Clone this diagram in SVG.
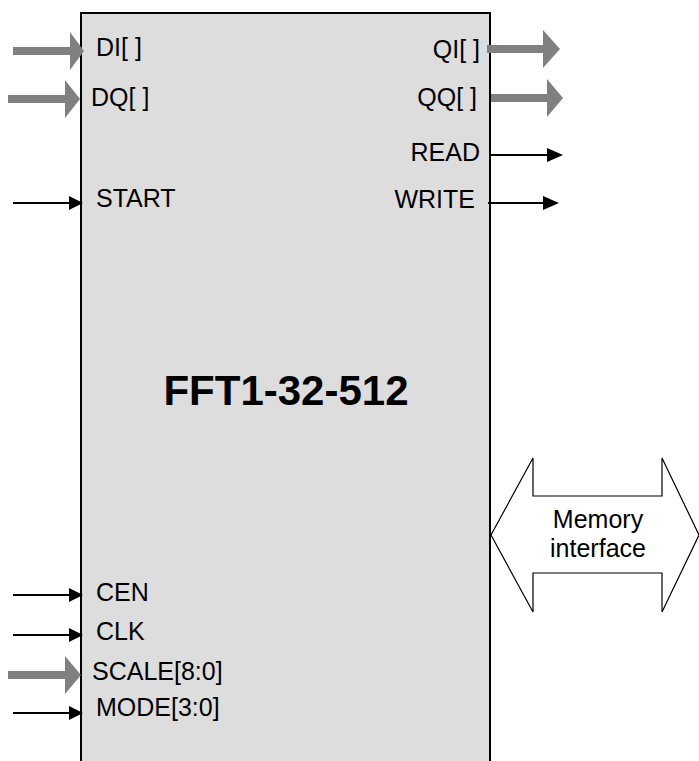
<svg xmlns="http://www.w3.org/2000/svg" width="699" height="761" viewBox="0 0 699 761">
<defs>
<style>
.lbl{font-family:"Liberation Sans",Arial,sans-serif;font-size:25px;fill:#000}
.title{font-family:"Liberation Sans",Arial,sans-serif;font-size:42px;font-weight:bold;fill:#000}
.thin{stroke:#000;stroke-width:2;fill:none}
.bus{fill:#808080;stroke:none}
.head{fill:#000;stroke:none}
</style>
</defs>
<rect width="699" height="761" fill="#fff"/>
<g id="block">
<rect x="81" y="13" width="409" height="760" fill="#dddddd" stroke="#000" stroke-width="2"/>
<text class="title" x="286" y="405" text-anchor="middle">FFT1-32-512</text>
</g>
<g id="labels">
<text class="lbl" x="96" y="56">DI[ ]</text>
<text class="lbl" x="91" y="106">DQ[ ]</text>
<text class="lbl" x="96" y="207">START</text>
<text class="lbl" x="96" y="601">CEN</text>
<text class="lbl" x="96" y="640">CLK</text>
<text class="lbl" x="92" y="680">SCALE[8:0]</text>
<text class="lbl" x="96" y="716">MODE[3:0]</text>
<text class="lbl" x="480" y="58" text-anchor="end">QI[ ]</text>
<text class="lbl" x="477" y="106" text-anchor="end">QQ[ ]</text>
<text class="lbl" x="480" y="161" text-anchor="end">READ</text>
<text class="lbl" x="475" y="208" text-anchor="end">WRITE</text>
</g>
<g id="memory">
<polygon points="491,535 533,458 533,496 662,496 662,458 699,535 662,612 662,573 533,573 533,612" fill="#fff" stroke="#000" stroke-width="1.2"/>
<text class="lbl" x="598" y="528" text-anchor="middle">Memory</text>
<text class="lbl" x="598" y="557" text-anchor="middle">interface</text>
</g>
<g id="connectors">
<polygon class="bus" points="13,47 70,47 70,32 84,51 70,70 70,55 13,55"/>
<polygon class="bus" points="8,95 65,95 65,80 80,99 65,118 65,103 8,103"/>
<polygon class="bus" points="8,671 65,671 65,656 81,675 65,694 65,679 8,679"/>
<polygon class="bus" points="487,45 543,45 543,30 560,49 543,68 543,53 487,53"/>
<polygon class="bus" points="491,94 547,94 547,79 563,98 547,117 547,102 491,102"/>
<line class="thin" x1="13" y1="203" x2="70" y2="203"/>
<polygon class="head" points="69,196 83,203 69,210"/>
<line class="thin" x1="13" y1="595" x2="70" y2="595"/>
<polygon class="head" points="69,588 83,595 69,602"/>
<line class="thin" x1="13" y1="635" x2="70" y2="635"/>
<polygon class="head" points="69,628 83,635 69,642"/>
<line class="thin" x1="13" y1="713" x2="70" y2="713"/>
<polygon class="head" points="69,706 83,713 69,720"/>
<line class="thin" x1="490" y1="155" x2="548" y2="155"/>
<polygon class="head" points="547,148 563,155 547,162"/>
<line class="thin" x1="488" y1="203" x2="545" y2="203"/>
<polygon class="head" points="543,196 559,203 543,210"/>
</g>
</svg>
